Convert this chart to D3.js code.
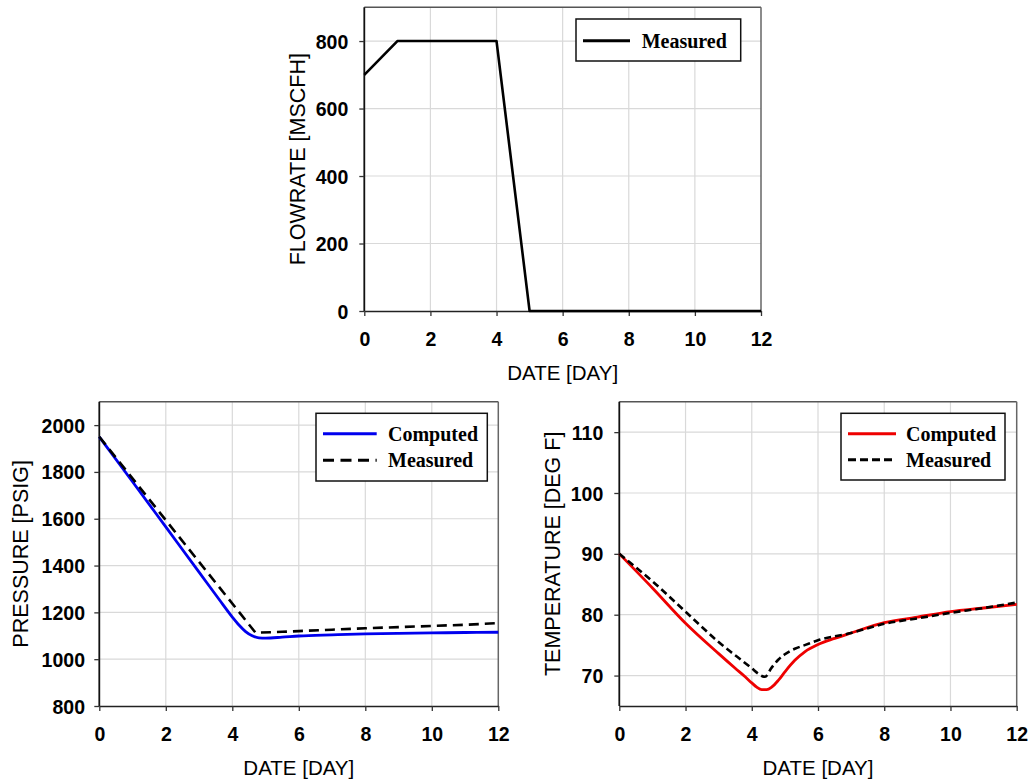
<!DOCTYPE html>
<html>
<head>
<meta charset="utf-8">
<script src="https://cdn.jsdelivr.net/npm/d3@7"></script>
<style>
  html, body { margin: 0; padding: 0; background: #fff; }
  svg { display: block; }
</style>
</head>
<body>
<svg id="chart" width="1032" height="781"></svg>
<script>
// ---------------- DATA ----------------
const xTicks = [0, 2, 4, 6, 8, 10, 12];

// Flowrate (top)
const flowDays     = [0, 1, 4, 5, 12];
const flowMeasured = [700, 800, 800, 0, 0];
const flowTicks    = [0, 200, 400, 600, 800];

// Pressure (bottom left)
const presCompDays = [0, 1, 2, 3, 3.6, 4, 4.2, 4.4, 4.6, 4.8, 5, 5.5, 6, 7, 8, 9, 10, 11, 12];
const presComputed = [1950, 1758, 1565, 1372, 1256, 1180, 1146, 1118, 1100, 1091, 1090, 1094, 1099, 1104, 1108, 1110, 1112, 1114, 1115];
const presMeasDays = [0, 4.7, 5.5, 6, 7, 8, 9, 10, 11, 12];
const presMeasured = [1950, 1113, 1117, 1120, 1126, 1132, 1137, 1142, 1147, 1154];
const presTicks    = [800, 1000, 1200, 1400, 1600, 1800, 2000];

// Temperature (bottom right)
const tempCompDays = [0, 1, 2, 3, 3.5, 3.8, 4, 4.15, 4.3, 4.45, 4.6, 4.8, 5, 5.3, 5.6, 6, 6.5, 7, 8, 9, 10, 11, 12];
const tempComputed = [90, 84.4, 78.6, 73.6, 71.2, 69.8, 68.8, 68.1, 67.7, 67.7, 68.1, 69.2, 70.6, 72.5, 73.9, 75.1, 76.1, 77.0, 78.7, 79.6, 80.5, 81.1, 81.7];
const tempMeasDays = [0, 1, 2, 3, 4, 4.2, 4.4, 4.6, 4.8, 5, 5.3, 5.6, 6, 7, 8, 9, 10, 11, 12];
const tempMeasured = [90, 85.5, 80.5, 75.5, 71.2, 70.3, 69.8, 71.3, 72.6, 73.5, 74.4, 75.0, 75.8, 77.0, 78.5, 79.4, 80.3, 81.1, 82.0];
const tempTicks    = [70, 80, 90, 100, 110];

const legendComputed = "Computed";
const legendMeasured = "Measured";

// ---------------- DRAWING ----------------
const svg = d3.select("#chart");
svg.append("rect").attr("width", 1032).attr("height", 781).attr("fill", "#fff");

const SANS = "'Liberation Sans', Arial, Helvetica, sans-serif";
const SERIF = "'Liberation Serif', 'Times New Roman', Times, serif";

function zip(xs, ys) { return xs.map((x, i) => ({ x: x, y: ys[i] })); }

function drawPanel(p) {
  const x = d3.scaleLinear().domain([0, 12]).range([p.left, p.right]);
  const y = d3.scaleLinear().domain(p.yDomain).range([p.bottom, p.top]);
  const g = svg.append("g");

  // gridlines
  g.append("g").selectAll("line").data(xTicks.filter(t => t > 0 && t < 12)).join("line")
    .attr("x1", d => x(d)).attr("x2", d => x(d))
    .attr("y1", p.top).attr("y2", p.bottom)
    .attr("stroke", "#d9d9d9").attr("stroke-width", 1.2);
  g.append("g").selectAll("line").data(p.yTicks.filter(t => t > p.yDomain[0])).join("line")
    .attr("x1", p.left).attr("x2", p.right)
    .attr("y1", d => y(d)).attr("y2", d => y(d))
    .attr("stroke", "#d9d9d9").attr("stroke-width", 1.2);

  // frame top/right
  g.append("line").attr("x1", p.left).attr("x2", p.right).attr("y1", p.top).attr("y2", p.top)
    .attr("stroke", "#555").attr("stroke-width", 1.5);
  g.append("line").attr("x1", p.right).attr("x2", p.right).attr("y1", p.top).attr("y2", p.bottom)
    .attr("stroke", "#666").attr("stroke-width", 1.5);

  // axes
  const ax = g.append("g").attr("transform", `translate(0,${p.bottom})`)
    .call(d3.axisBottom(x).tickValues(xTicks).tickSize(5).tickSizeOuter(0));
  ax.select(".domain").attr("stroke", "#222").attr("stroke-width", 1.6);
  ax.selectAll(".tick line").attr("stroke", "#333").attr("stroke-width", 1.3);
  ax.selectAll(".tick text").attr("y", 35).attr("dy", 0)
    .attr("font-family", SANS).attr("font-weight", "bold").attr("font-size", 19.5).attr("fill", "#000");

  const ay = g.append("g").attr("transform", `translate(${p.left},0)`)
    .call(d3.axisLeft(y).tickValues(p.yTicks).tickSize(5).tickSizeOuter(0).tickFormat(d3.format("d")));
  ay.select(".domain").attr("stroke", "#111").attr("stroke-width", 1.8)
    .attr("d", `M0,${p.top}V${p.bottom}`);
  ay.selectAll(".tick line").attr("stroke", "#333").attr("stroke-width", 1.3);
  ay.selectAll(".tick text").attr("x", -p.labelGap).attr("dy", "0.36em")
    .attr("font-family", SANS).attr("font-weight", "bold").attr("font-size", 19.5).attr("fill", "#000");

  // axis titles
  g.append("text").attr("x", (p.left + p.right) / 2).attr("y", p.bottom + 69)
    .attr("text-anchor", "middle").attr("font-family", SANS).attr("font-size", 20.5).attr("fill", "#000")
    .text("DATE [DAY]");
  g.append("text")
    .attr("transform", `translate(${p.yTitleX},${(p.top + p.bottom) / 2}) rotate(-90)`)
    .attr("text-anchor", "middle").attr("dy", "0.36em")
    .attr("font-family", SANS).attr("font-size", 21.5).attr("fill", "#000")
    .text(p.yTitle);

  // series
  p.series.forEach(s => {
    const line = d3.line().x(d => x(d.x)).y(d => y(d.y)).curve(s.curve || d3.curveLinear);
    g.append("path").datum(zip(s.xs, s.ys))
      .attr("fill", "none").attr("stroke", s.color).attr("stroke-width", s.width || 2.6)
      .attr("stroke-dasharray", s.dash || null)
      .attr("stroke-linejoin", "round")
      .attr("d", line);
  });

  // legend
  const L = p.legend;
  g.append("rect").attr("x", L.x).attr("y", L.y).attr("width", L.w).attr("height", L.h)
    .attr("fill", "#fff").attr("stroke", "#111").attr("stroke-width", 1.5);
  p.series.forEach((s, i) => {
    const ly = L.y + L.firstY + i * L.step;
    g.append("line").attr("x1", L.x + L.lineX0).attr("x2", L.x + L.lineX1)
      .attr("y1", ly).attr("y2", ly)
      .attr("stroke", s.color).attr("stroke-width", 3)
      .attr("stroke-dasharray", s.legendDash || null);
    g.append("text").attr("x", L.x + L.textX).attr("y", ly + 7)
      .attr("font-family", SERIF).attr("font-weight", "bold").attr("font-size", 20).attr("fill", "#000")
      .text(s.name);
  });
}

// Top: flowrate
drawPanel({
  left: 364.3, right: 761, top: 7.3, bottom: 311,
  yDomain: [0, 900], yTicks: flowTicks, labelGap: 16,
  yTitle: "FLOWRATE [MSCFH]", yTitleX: 297,
  series: [
    { name: legendMeasured, xs: flowDays, ys: flowMeasured, color: "#000", width: 2.6 }
  ],
  legend: { x: 576, y: 19, w: 164.7, h: 42, firstY: 21.7, step: 0, lineX0: 7, lineX1: 54, textX: 65.7 }
});

// Bottom left: pressure
drawPanel({
  left: 99.3, right: 498.3, top: 401.7, bottom: 706,
  yDomain: [800, 2100], yTicks: presTicks, labelGap: 14.3,
  yTitle: "PRESSURE [PSIG]", yTitleX: 20.5,
  series: [
    { name: legendComputed, xs: presCompDays, ys: presComputed, color: "#0000ee", width: 2.8, curve: d3.curveMonotoneX },
    { name: legendMeasured, xs: presMeasDays, ys: presMeasured, color: "#000", width: 2.6, dash: "10,6", legendDash: "11,6.5" }
  ],
  legend: { x: 316, y: 413.3, w: 171.3, h: 67.7, firstY: 20.4, step: 26.6, lineX0: 7, lineX1: 60.7, textX: 72 }
});

// Bottom right: temperature
drawPanel({
  left: 619.3, right: 1016.7, top: 401.7, bottom: 706,
  yDomain: [65, 115], yTicks: tempTicks, labelGap: 16,
  yTitle: "TEMPERATURE [DEG F]", yTitleX: 552,
  series: [
    { name: legendComputed, xs: tempCompDays, ys: tempComputed, color: "#ee0000", width: 2.8, curve: d3.curveMonotoneX },
    { name: legendMeasured, xs: tempMeasDays, ys: tempMeasured, color: "#000", width: 2.6, dash: "7,4", legendDash: "8,4", curve: d3.curveMonotoneX }
  ],
  legend: { x: 841, y: 413.3, w: 164, h: 66.7, firstY: 20.4, step: 26, lineX0: 7, lineX1: 55, textX: 65 }
});
</script>
</body>
</html>
